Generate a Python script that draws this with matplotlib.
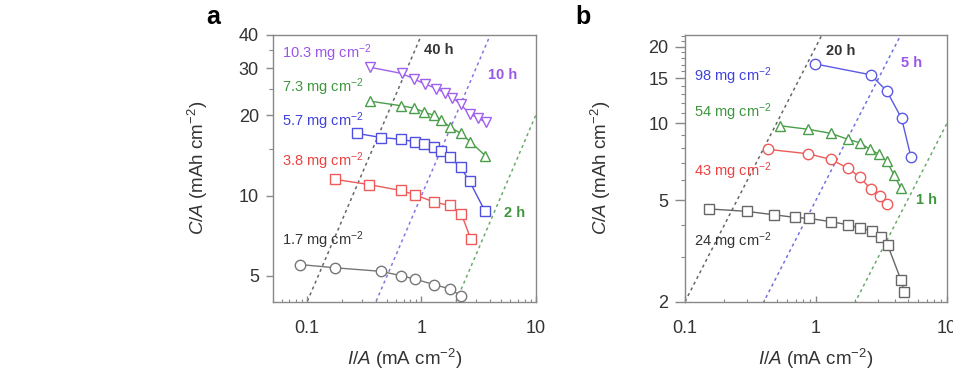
import numpy as np
import matplotlib
matplotlib.use('Agg')
from matplotlib import pyplot as plt
from matplotlib.ticker import FixedLocator, FixedFormatter, LogLocator, NullFormatter

plt.rcParams['font.family'] = ['Liberation Sans', 'DejaVu Sans']
plt.rcParams['mathtext.fontset'] = 'custom'
plt.rcParams['mathtext.rm'] = 'Liberation Sans'
plt.rcParams['mathtext.it'] = 'Liberation Sans:italic'
plt.rcParams['mathtext.bf'] = 'Liberation Sans:bold'

# ---- panel a data ----
a_labels = ['10.3', '7.3', '5.7', '3.8', '1.7']
a_x = [
    [0.352, 0.670, 0.86, 1.07, 1.35, 1.62, 1.86, 2.2, 2.64, 3.1, 3.65],
    [0.352, 0.668, 0.853, 1.045, 1.277, 1.49, 1.79, 2.22, 2.67, 3.63],
    [0.275, 0.444, 0.668, 0.88, 1.057, 1.295, 1.49, 1.79, 2.2, 2.64, 3.59],
    [0.176, 0.347, 0.657, 0.88, 1.30, 1.77, 2.23, 2.70],
    [0.0874, 0.176, 0.44, 0.66, 0.88, 1.30, 1.77, 2.23],
]
a_y = [
    [30.3, 28.7, 27.4, 26.2, 25.2, 24.2, 23.3, 22.0, 20.2, 19.6, 18.8],
    [22.6, 21.7, 21.3, 20.6, 20.0, 19.25, 18.0, 17.1, 15.9, 14.1],
    [17.1, 16.5, 16.25, 15.9, 15.6, 15.25, 14.7, 13.9, 12.76, 11.3, 8.75],
    [11.5, 11.0, 10.45, 10.07, 9.44, 9.18, 8.55, 6.88],
    [5.51, 5.36, 5.2, 5.01, 4.86, 4.63, 4.47, 4.2],
]
a_markers = ['v', '^', 's', 's', 'o']
a_colors = ['#a060ee', '#4a9e4a', '#5050e0', '#ee5a5a', '#777777']
a_text_colors = ['#9a55ea', '#3f963f', '#4040dd', '#ee4040', '#333333']
a_hours = [40, 10, 2]

# ---- panel b data ----
b_labels = ['98', '54', '43', '24']
b_x = [
    [0.982, 2.62, 3.47, 4.51, 5.31],
    [0.531, 0.869, 1.30, 1.75, 2.17, 2.58, 3.03, 3.48, 3.94, 4.46],
    [0.428, 0.874, 1.30, 1.75, 2.17, 2.63, 3.08, 3.47],
    [0.152, 0.296, 0.481, 0.692, 0.885, 1.30, 1.77, 2.17, 2.66, 3.13, 3.53, 4.46, 4.72],
]
b_y = [
    [17.1, 15.5, 13.4, 10.45, 7.38],
    [9.79, 9.48, 9.14, 8.66, 8.39, 7.91, 7.57, 7.1, 6.28, 5.56],
    [7.91, 7.6, 7.22, 6.68, 6.15, 5.51, 5.21, 4.83],
    [4.62, 4.52, 4.38, 4.28, 4.24, 4.12, 4.0, 3.88, 3.8, 3.57, 3.33, 2.43, 2.18],
]
b_markers = ['o', '^', 'o', 's']
b_colors = ['#5a5ae6', '#4a9e4a', '#ee5a5a', '#666666']
b_text_colors = ['#4040dd', '#3f963f', '#ee4040', '#333333']
b_hours = [20, 5, 1]

hour_text_colors = ['#333333', '#9a55ea', '#3f963f']

fig = plt.figure(figsize=(9.54, 3.71), dpi=100)
ax_a = fig.add_axes([0.2859, 0.1868, 0.2757, 0.7189])
ax_b = fig.add_axes([0.7180, 0.1868, 0.2746, 0.7189])


def style_axes(ax, ymajor, ymajor_lab, yminor, ymaj_len):
    ax.set_xscale('log')
    ax.set_yscale('log')
    for sp in ax.spines.values():
        sp.set_color('#888888')
        sp.set_linewidth(1.0)
    ax.xaxis.set_major_locator(FixedLocator([0.1, 1, 10]))
    ax.xaxis.set_major_formatter(FixedFormatter(['0.1', '1', '10']))
    ax.xaxis.set_minor_locator(LogLocator(base=10, subs=np.arange(2, 10)))
    ax.xaxis.set_minor_formatter(NullFormatter())
    ax.yaxis.set_major_locator(FixedLocator(ymajor))
    ax.yaxis.set_major_formatter(FixedFormatter(ymajor_lab))
    ax.yaxis.set_minor_locator(FixedLocator(yminor))
    ax.yaxis.set_minor_formatter(NullFormatter())
    ax.tick_params(axis='x', which='major', direction='in', length=4, width=1,
                   color='#888888', pad=13, labelsize=13, labelcolor='#333333')
    ax.tick_params(axis='x', which='minor', direction='in', length=2.5, width=0.8,
                   color='#888888')
    ax.tick_params(axis='y', which='major', direction='out', length=ymaj_len, width=1,
                   color='#888888', pad=5, labelsize=13, labelcolor='#333333')
    ax.tick_params(axis='y', which='minor', direction='out', length=3, width=0.8,
                   color='#888888')
    ax.set_xlabel('$I/A$ (mA cm$^{-2}$)', fontsize=13.5, color='#333333')
    ax.set_ylabel('$C/A$ (mAh cm$^{-2}$)', fontsize=13.5, color='#333333')
    ax.xaxis.set_label_coords(0.5, -0.17)


# panel a
ax = ax_a
xs = np.array([0.05, 10])
for h, c in zip(a_hours, ['#666666', '#8f70e6', '#6aaa6a']):
    ax.plot(xs, h * xs, linestyle=(0, (2, 2.2)), color=c, linewidth=1.1, zorder=1)
for x, y, m, c in zip(a_x, a_y, a_markers, a_colors):
    ax.plot(x, y, marker=m, color=c, markerfacecolor='white', markersize=7.5,
            markeredgewidth=1.0, linewidth=1.0, zorder=3)
ax.set_xlim(0.05, 10)
ax.set_ylim(4, 40)
style_axes(ax, [5, 10, 20, 30, 40], ['5', '10', '20', '30', '40'], [15, 25, 35], 5)
ax.yaxis.set_label_coords(-0.24, 0.5)

a_text_y = [0.9325, 0.805, 0.675, 0.525, 0.231]
for lab, ty, c in zip(a_labels, a_text_y, a_text_colors):
    ax.text(0.036, ty, lab + ' mg cm$^{-2}$', transform=ax.transAxes, fontsize=10.5,
            color=c, va='center', ha='left')
a_hour_pos = [(0.575, 0.944), (0.817, 0.85), (0.880, 0.334)]
for h, (tx, ty), c in zip(a_hours, a_hour_pos, hour_text_colors):
    ax.text(tx, ty, '%d h' % h, transform=ax.transAxes, fontsize=10.5, fontweight='bold',
            color=c, va='center', ha='left')

# panel b
ax = ax_b
xs = np.array([0.1, 10])
for h, c in zip(b_hours, ['#666666', '#7070dd', '#6aaa6a']):
    ax.plot(xs, h * xs, linestyle=(0, (2, 2.2)), color=c, linewidth=1.1, zorder=1)
for x, y, m, c in zip(b_x, b_y, b_markers, b_colors):
    ax.plot(x, y, marker=m, color=c, markerfacecolor='white', markersize=7.5,
            markeredgewidth=1.0, linewidth=1.0, zorder=3)
ax.set_xlim(0.1, 10)
ax.set_ylim(2, 22.2)
b_minor = [v for v in range(3, 23) if v not in (5, 10, 15, 20)]
style_axes(ax, [2, 5, 10, 15, 20], ['2', '5', '10', '15', '20'], b_minor, 7)
ax.yaxis.set_label_coords(-0.275, 0.5)

b_text_y = [0.844, 0.712, 0.4875, 0.228]
for lab, ty, c in zip(b_labels, b_text_y, b_text_colors):
    ax.text(0.036, ty, lab + ' mg cm$^{-2}$', transform=ax.transAxes, fontsize=10.5,
            color=c, va='center', ha='left')
b_hour_pos = [(0.540, 0.94), (0.825, 0.895), (0.882, 0.381)]
for h, (tx, ty), c in zip(b_hours, b_hour_pos, hour_text_colors):
    ax.text(tx, ty, '%d h' % h, transform=ax.transAxes, fontsize=10.5, fontweight='bold',
            color=c, va='center', ha='left')

# panel letters
fig.text(213 / 954, 1 - 17 / 371, 'a', fontsize=18, fontweight='bold', ha='center', va='center')
fig.text(583 / 954, 1 - 17 / 371, 'b', fontsize=18, fontweight='bold', ha='center', va='center')

fig.savefig('out.png', dpi=100)
